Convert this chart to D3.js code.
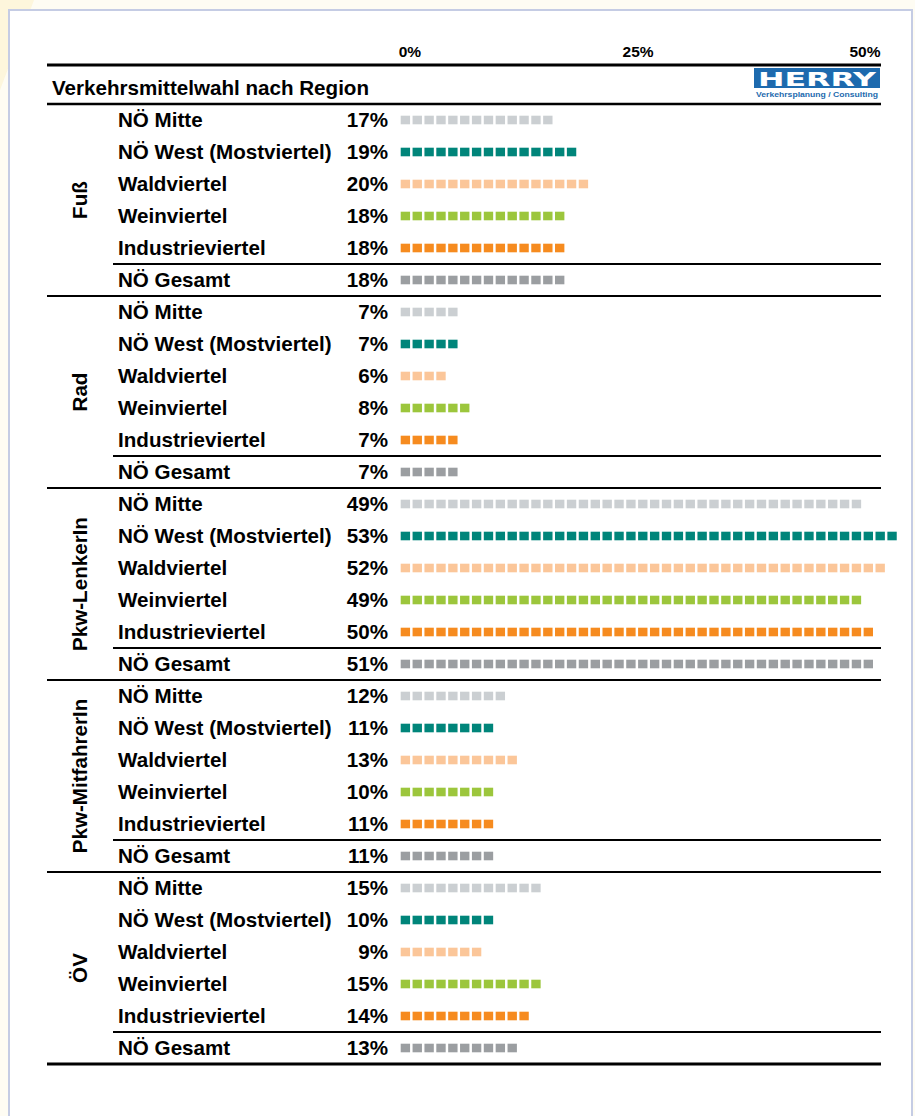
<!DOCTYPE html>
<html>
<head>
<meta charset="utf-8">
<script src="https://cdn.jsdelivr.net/npm/d3@7"></script>
<style>
  html, body { margin: 0; padding: 0; background: #ffffff; }
  svg { display: block; }
  text { font-family: "Liberation Sans", Arial, sans-serif; font-weight: bold; fill: #000; }
</style>
</head>
<body>
<svg id="chart" width="915" height="1116"></svg>
<script>
// Modal split by region, in percent
const modes = ["Fuß", "Rad", "Pkw-LenkerIn", "Pkw-MitfahrerIn", "ÖV"];
const regions = ["NÖ Mitte", "NÖ West (Mostviertel)", "Waldviertel", "Weinviertel", "Industrieviertel", "NÖ Gesamt"];
const regionColors = ["#cbcfd2", "#00857a", "#fbc699", "#9cc63c", "#f68b1f", "#9b9ea1"];

const fuss        = [17, 19, 20, 18, 18, 18];
const rad         = [7, 7, 6, 8, 7, 7];
const pkwLenker   = [49, 53, 52, 49, 50, 51];
const pkwMitfahrer= [12, 11, 13, 10, 11, 11];
const oev         = [15, 10, 9, 15, 14, 13];
const modeValues  = [fuss, rad, pkwLenker, pkwMitfahrer, oev];

const tickValues = [0, 25, 50];
const tickLabels = ["0%", "25%", "50%"];
const title = "Verkehrsmittelwahl nach Region";
const unitStep = 1.25; // one square stands for 1.25 %

// flat row table
const rows = [];
modeValues.forEach((vals, g) => {
  vals.forEach((v, r) => rows.push({ mode: modes[g], g, r, region: regions[r], value: v, color: regionColors[r] }));
});

const svg = d3.select("#chart");
const labelSize = "20.6px";

// page background and frame
svg.append("rect").attr("x", 0).attr("y", 0).attr("width", 915).attr("height", 1116).attr("fill", "#fefcf3");
svg.append("path").attr("d", "M0,0 L34,0 L0,90 Z").attr("fill", "#fdf4d6").attr("opacity", 0.8);
svg.append("rect").attr("x", 9).attr("y", 10).attr("width", 903).attr("height", 1130)
  .attr("fill", "#ffffff").attr("stroke", "#c5cce4").attr("stroke-width", 2);

// scales
const x = d3.scaleLinear().domain([0, 50]).range([400.7, 400.7 + 40 * 11.87]);
const y = d3.scaleBand().domain(d3.range(rows.length)).range([104, 104 + 32 * rows.length]);
const pitch = x(unitStep) - x(0);

// axis labels on top
svg.append("g").selectAll("text").data(tickValues).join("text")
  .attr("x", (d, i) => i === 0 ? x(d) - 2 : i === tickValues.length - 1 ? x(d) + 5 : x(d))
  .attr("y", 57)
  .attr("text-anchor", (d, i) => i === 0 ? "start" : i === tickValues.length - 1 ? "end" : "middle")
  .style("font-size", "15.5px")
  .text((d, i) => tickLabels[i]);

// title band
svg.append("text").attr("x", 52).attr("y", 95).style("font-size", labelSize).text(title);

// logo
const logo = svg.append("g");
logo.append("rect").attr("x", 754).attr("y", 68).attr("width", 126).attr("height", 20).attr("fill", "#1d6aae");
logo.append("text").attr("x", 758).attr("y", 85.5)
  .attr("textLength", 118).attr("lengthAdjust", "spacingAndGlyphs")
  .style("font-family", "'DejaVu Sans', sans-serif").style("font-weight", "900")
  .style("font-size", "19px").style("fill", "#ffffff").text("HERRY");
logo.append("text").attr("x", 756).attr("y", 97)
  .attr("textLength", 122).attr("lengthAdjust", "spacingAndGlyphs")
  .style("font-size", "7.5px").style("fill", "#1d6aae").text("Verkehrsplanung / Consulting");

// horizontal rules
const rules = svg.append("g").attr("stroke", "#000");
rules.append("line").attr("x1", 47).attr("x2", 881).attr("y1", 65).attr("y2", 65).attr("stroke-width", 3);
rules.append("line").attr("x1", 47).attr("x2", 881).attr("y1", y(0)).attr("y2", y(0)).attr("stroke-width", 2.5);
modes.forEach((m, g) => {
  const first = g * regions.length;
  const last = first + regions.length - 1;
  rules.append("line").attr("x1", 113).attr("x2", 881)
    .attr("y1", y(last)).attr("y2", y(last)).attr("stroke-width", 2);
  rules.append("line").attr("x1", 47).attr("x2", 881)
    .attr("y1", y(last) + y.bandwidth()).attr("y2", y(last) + y.bandwidth())
    .attr("stroke-width", g === modes.length - 1 ? 3 : 2);
});

// mode labels (rotated)
svg.append("g").selectAll("text").data(modes).join("text")
  .attr("transform", (m, g) => {
    const cy = (y(g * regions.length) + y(g * regions.length + regions.length - 1) + y.bandwidth()) / 2;
    return `translate(80,${cy}) rotate(-90)`;
  })
  .attr("text-anchor", "middle").attr("dy", "0.36em")
  .style("font-size", labelSize)
  .text(d => d);

// row labels and values
const rowG = svg.append("g").selectAll("g").data(rows).join("g")
  .attr("transform", (d, i) => `translate(0,${y(i) + y.bandwidth() / 2})`);

rowG.append("text").attr("x", 118).attr("dy", "0.36em").style("font-size", labelSize).text(d => d.region);
rowG.append("text").attr("x", 388).attr("dy", "0.36em").attr("text-anchor", "end")
  .style("font-size", labelSize).text(d => d3.format(".0f")(d.value) + "%");

// square bars
rowG.each(function (d) {
  const n = Math.floor(d.value / unitStep + 1e-9);
  d3.select(this).selectAll("rect").data(d3.range(n)).join("rect")
    .attr("x", k => x(k * unitStep))
    .attr("y", -4.3)
    .attr("width", pitch - 2.5)
    .attr("height", 8.6)
    .attr("fill", d.color);
});
</script>
</body>
</html>
